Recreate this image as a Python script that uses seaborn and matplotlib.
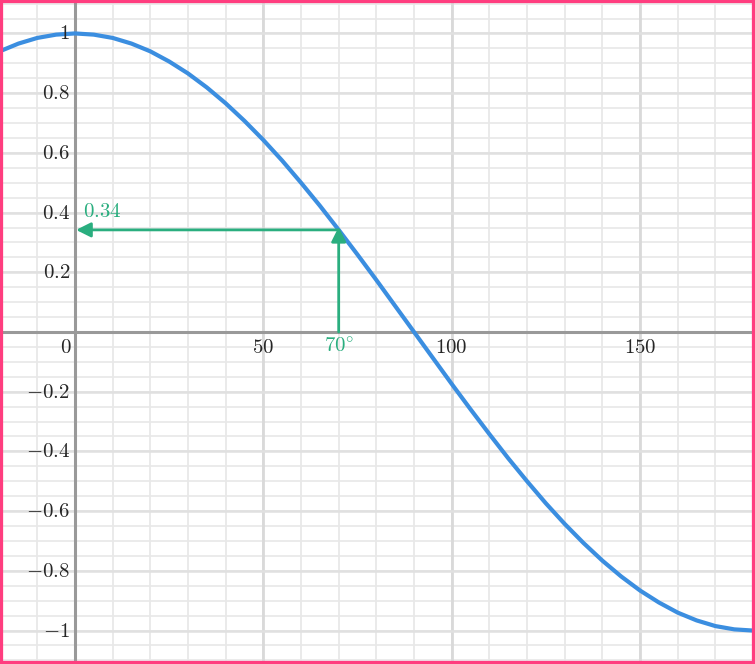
import numpy as np
import pandas as pd
import matplotlib
matplotlib.use("Agg")
import matplotlib.pyplot as plt
import matplotlib.patches as patches
import seaborn as sns

# --- data (cosine curve, degrees) ---
angles = [-20, -15, -10, -5, 0, 5, 10, 15, 20, 25, 30, 35, 40, 45, 50, 55, 60,
          65, 70, 75, 80, 85, 90, 95, 100, 105, 110, 115, 120, 125, 130, 135,
          140, 145, 150, 155, 160, 165, 170, 175, 180]
values = [0.940, 0.966, 0.985, 0.996, 1.000, 0.996, 0.985, 0.966, 0.940, 0.906,
          0.866, 0.819, 0.766, 0.707, 0.643, 0.574, 0.500, 0.423, 0.342, 0.259,
          0.174, 0.087, 0.000, -0.087, -0.174, -0.259, -0.342, -0.423, -0.500,
          -0.574, -0.643, -0.707, -0.766, -0.819, -0.866, -0.906, -0.940,
          -0.966, -0.985, -0.996, -1.000]

x_ticks = [50, 100, 150]
y_ticks = [1, 0.8, 0.6, 0.4, 0.2, -0.2, -0.4, -0.6, -0.8, -1]
y_labels = ["1", "0.8", "0.6", "0.4", "0.2", "−0.2", "−0.4", "−0.6", "−0.8", "−1"]

marked_angle = 70
marked_value = 0.342

df = pd.DataFrame({"angle": angles, "value": values})

# --- style ---
sns.set_style("white")
plt.rcParams["mathtext.fontset"] = "cm"

blue = "#3b8ee0"
green = "#2aae7f"
pink = "#ff3d7f"

fig = plt.figure(figsize=(7.55, 6.64), dpi=100)
ax = fig.add_axes([0, 0, 1, 1])
ax.set_xlim(-19.9, 180.5)
ax.set_ylim(-1.112, 1.112)

# grid: minor every 10 / 0.05, major every 50 / 0.2
for gx in np.arange(-10, 181, 10):
    ax.axvline(gx, color="#e6e6e6", lw=1.2, zorder=0)
for gy in np.arange(-1.1, 1.11, 0.05):
    ax.axhline(gy, color="#e8e8e8", lw=1.2, zorder=0)
for gx in [50, 100, 150]:
    ax.axvline(gx, color="#d9d9d9", lw=2, zorder=0)
for gy in np.arange(-1.0, 1.01, 0.2):
    ax.axhline(gy, color="#e0e0e0", lw=1.8, zorder=0)

ax.axhline(0, color="#999999", lw=2.2, zorder=1)
ax.axvline(0, color="#999999", lw=2.2, zorder=1)

# curve
sns.lineplot(data=df, x="angle", y="value", ax=ax, color=blue, lw=3, zorder=3)

# arrows
ax.annotate("", xy=(marked_angle, marked_value + 0.01), xytext=(marked_angle, 0),
            arrowprops=dict(arrowstyle="-|>", color=green, lw=2, mutation_scale=22,
                            shrinkA=0, shrinkB=0), zorder=4)
ax.annotate("", xy=(0.3, marked_value), xytext=(marked_angle, marked_value),
            arrowprops=dict(arrowstyle="-|>", color=green, lw=2, mutation_scale=22,
                            shrinkA=0, shrinkB=0), zorder=4)

fs = 15
ax.text(2.2, 0.404, r"$0.34$", color=green, fontsize=fs, ha="left", va="center")
ax.text(marked_angle, -0.05, r"$70^{\circ}$", color=green,
        fontsize=fs, ha="center", va="center")

# tick labels
for v, lab in zip(y_ticks, y_labels):
    ax.text(-1.3, v, "$" + lab.replace("−", "-") + "$", fontsize=fs,
            ha="right", va="center")
for v in x_ticks:
    ax.text(v, -0.05, "$%d$" % v, fontsize=fs, ha="center", va="center")
ax.text(-2.4, -0.05, r"$0$", fontsize=fs, ha="center", va="center")

ax.set_xlabel("")
ax.set_ylabel("")
ax.set_xticks([])
ax.set_yticks([])
for s in ax.spines.values():
    s.set_visible(False)

fig.patches.append(patches.Rectangle((0, 0), 1, 1, transform=fig.transFigure,
                                     fill=False, edgecolor=pink, lw=4.5))

fig.savefig("out.png", dpi=100)
